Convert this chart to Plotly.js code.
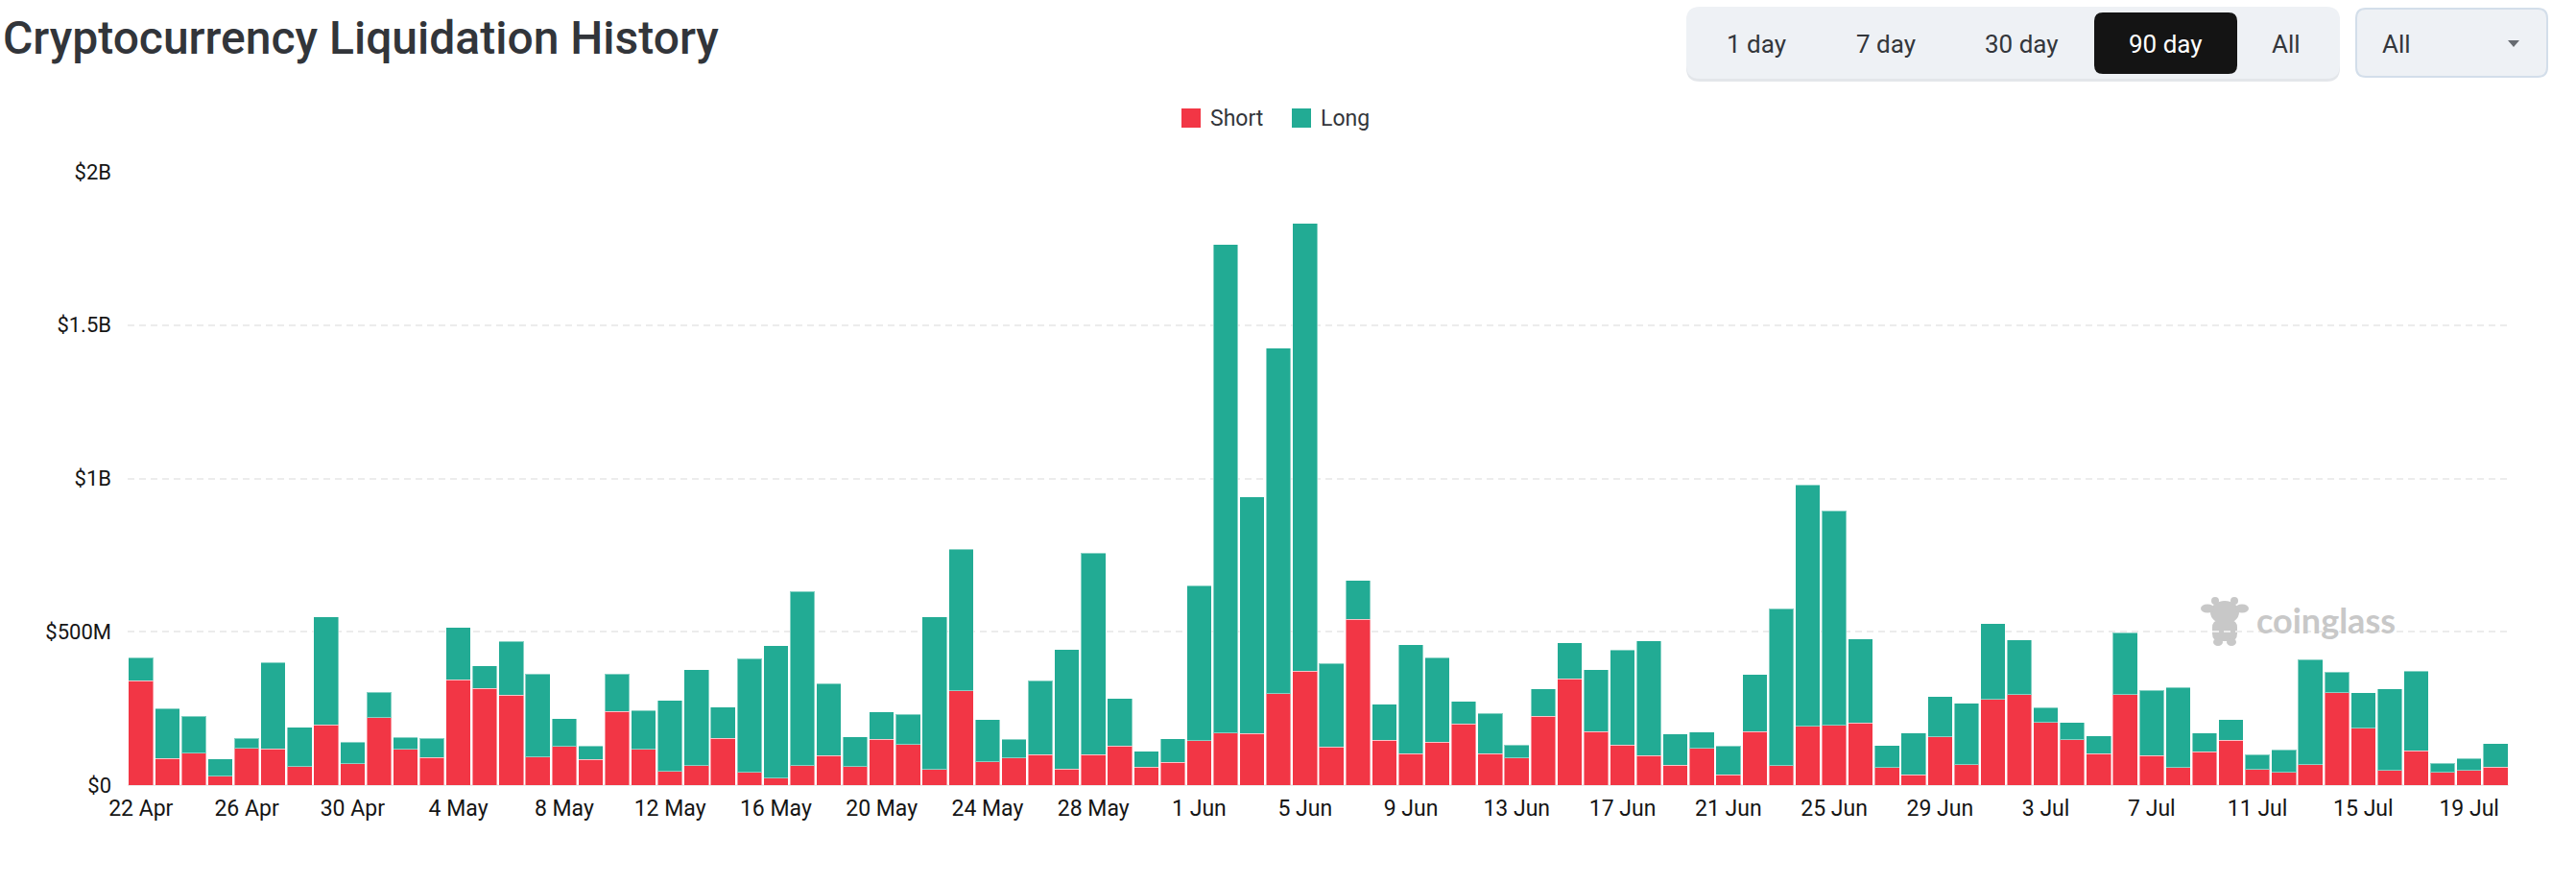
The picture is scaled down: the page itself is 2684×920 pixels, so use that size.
<!DOCTYPE html>
<html>
<head>
<meta charset="utf-8">
<script src="https://cdn.plot.ly/plotly-3.0.1.min.js"></script>
<style>
  html, body { margin: 0; padding: 0; background: #ffffff; }
  #chart { width: 2684px; height: 920px; }
</style>
</head>
<body>
<div id="chart"></div>
<script>
// ---------- DATA (values in millions of USD) ----------
const dates = [
  "22 Apr","23 Apr","24 Apr","25 Apr","26 Apr","27 Apr","28 Apr","29 Apr","30 Apr",
  "1 May","2 May","3 May","4 May","5 May","6 May","7 May","8 May","9 May","10 May",
  "11 May","12 May","13 May","14 May","15 May","16 May","17 May","18 May","19 May","20 May",
  "21 May","22 May","23 May","24 May","25 May","26 May","27 May","28 May","29 May","30 May","31 May",
  "1 Jun","2 Jun","3 Jun","4 Jun","5 Jun","6 Jun","7 Jun","8 Jun","9 Jun","10 Jun",
  "11 Jun","12 Jun","13 Jun","14 Jun","15 Jun","16 Jun","17 Jun","18 Jun","19 Jun","20 Jun",
  "21 Jun","22 Jun","23 Jun","24 Jun","25 Jun","26 Jun","27 Jun","28 Jun","29 Jun","30 Jun",
  "1 Jul","2 Jul","3 Jul","4 Jul","5 Jul","6 Jul","7 Jul","8 Jul","9 Jul","10 Jul",
  "11 Jul","12 Jul","13 Jul","14 Jul","15 Jul","16 Jul","17 Jul","18 Jul","19 Jul","20 Jul"
];

const shortVals = [
  341, 87, 104, 29, 119, 118, 61, 197, 70,
  220, 117, 90, 344, 316, 294, 91, 126, 83, 241,
  117, 45, 64, 152, 42, 23, 64, 97, 60, 149,
  133, 51, 308, 76, 89, 100, 53, 100, 128, 58, 75,
  145, 170, 168, 298, 371, 124, 540, 147, 102, 140,
  199, 102, 88, 224, 346, 174, 130, 96, 65, 120,
  33, 175, 64, 192, 195, 203, 57, 33, 157, 66,
  279, 295, 204, 148, 103, 295, 97, 57, 108, 146,
  51, 41, 66, 301, 185, 48, 112, 42, 47, 58
];

const longVals = [
  75, 163, 121, 57, 34, 282, 128, 351, 70,
  83, 39, 62, 170, 73, 175, 272, 91, 45, 122,
  126, 232, 313, 102, 371, 431, 567, 234, 97, 89,
  98, 498, 461, 138, 61, 241, 389, 657, 154, 53, 76,
  505, 1593, 772, 1127, 1461, 273, 127, 116, 355, 275,
  74, 132, 43, 90, 118, 203, 310, 374, 101, 53,
  94, 186, 511, 787, 700, 273, 72, 137, 131, 201,
  247, 178, 49, 57, 58, 202, 212, 262, 62, 68,
  48, 74, 344, 68, 116, 266, 259, 29, 40, 78
];

const xTickLabels = [
  "22 Apr","26 Apr","30 Apr","4 May","8 May","12 May","16 May","20 May","24 May","28 May",
  "1 Jun","5 Jun","9 Jun","13 Jun","17 Jun","21 Jun","25 Jun","29 Jun","3 Jul","7 Jul",
  "11 Jul","15 Jul","19 Jul"
];
const yTickVals = [0, 500, 1000, 1500, 2000];
const yTickText = ["$0", "$500M", "$1B", "$1.5B", "$2B"];

const seriesNames = ["Short", "Long"];
const rangeButtons = ["1 day", "7 day", "30 day", "90 day", "All"];

// ---------- STYLE ----------
const RED = "#f23645";
const TEAL = "#22ab94";
const FONT = "Roboto, 'Noto Sans', sans-serif";

const W = 2684, H = 920;
const M = { l: 133, r: 70, t: 179, b: 102 };
const PW = W - M.l - M.r, PH = H - M.t - M.b;
const px = X => (X - M.l) / PW;
const py = Y => (H - M.b - Y) / PH;
const pt = (X, Y) => px(X) + "," + py(Y);

function rrect(x0, y0, x1, y1, r) {
  return "M" + pt(x0 + r, y0) +
    " L" + pt(x1 - r, y0) + " Q" + pt(x1, y0) + " " + pt(x1, y0 + r) +
    " L" + pt(x1, y1 - r) + " Q" + pt(x1, y1) + " " + pt(x1 - r, y1) +
    " L" + pt(x0 + r, y1) + " Q" + pt(x0, y1) + " " + pt(x0, y1 - r) +
    " L" + pt(x0, y0 + r) + " Q" + pt(x0, y0) + " " + pt(x0 + r, y0) + " Z";
}
function pathShape(d, fill, line, lw, layer) {
  return { type: "path", xref: "paper", yref: "paper", path: d,
           fillcolor: fill, line: { color: line || fill, width: lw || 0 }, layer: layer || "above" };
}
function ellipse(cx, cy, rx, ry, fill) {
  return { type: "circle", xref: "paper", yref: "paper",
           x0: px(cx - rx), x1: px(cx + rx), y0: py(cy + ry), y1: py(cy - ry),
           fillcolor: fill, line: { width: 0 }, layer: "below" };
}
function note(text, X, Y, size, color, xanchor, extra) {
  return Object.assign({ text: text, xref: "paper", yref: "paper", x: px(X), y: py(Y),
    xanchor: xanchor || "left", yanchor: "middle", showarrow: false,
    font: { family: FONT, size: size, color: color } }, extra || {});
}

// ---------- TRACES ----------
const traces = [
  { type: "bar", name: seriesNames[0], x: dates, y: shortVals,
    marker: { color: RED, line: { color: "rgba(255,255,255,0.45)", width: 1 } },
    hoverinfo: "x+y+name" },
  { type: "bar", name: seriesNames[1], x: dates, y: longVals,
    marker: { color: TEAL, line: { color: "rgba(255,255,255,0.45)", width: 1 } },
    hoverinfo: "x+y+name" }
];

// ---------- CHROME (title, buttons, legend, watermark) ----------
const shapes = [];
const annotations = [];

// title
annotations.push(note("Cryptocurrency Liquidation History", 1, 40, 48, "#32353a", "left",
  { font: { family: FONT, size: 48, color: "#32353a", weight: 500 } }));

// button group
shapes.push(pathShape(rrect(1757, 9, 2438, 85, 14), "#e3e6ea"));
shapes.push(pathShape(rrect(1757, 7, 2438, 82, 14), "#eef1f5"));
shapes.push(pathShape(rrect(2182, 13, 2331, 77, 9), "#141414"));
const btnCenters = [1830, 1965, 2106, 2256, 2382];
rangeButtons.forEach((b, i) => {
  annotations.push(note(b, btnCenters[i], 46, 26, i === 3 ? "#ffffff" : "#33363b", "center"));
});

// dropdown
shapes.push(pathShape(rrect(2455, 9, 2654, 80, 10), "#eef1f5", "#d3deea", 2));
annotations.push(note("All", 2480, 46, 26, "#33363b", "left"));
shapes.push(pathShape("M" + pt(2613, 42) + " L" + pt(2625, 42) + " L" + pt(2619, 49) + " Z", "#666a70"));

// legend
shapes.push(pathShape(rrect(1231, 113, 1251, 133, 0.01), RED));
shapes.push(pathShape(rrect(1346, 113, 1366, 133, 0.01), TEAL));
annotations.push(note(seriesNames[0], 1259, 123, 23, "#33363b", "left"));
annotations.push(note(seriesNames[1], 1374, 123, 23, "#33363b", "left"));

// watermark
const WM = "#c8c8c8";
shapes.push(ellipse(2318, 638, 15, 12, WM));   // head
shapes.push(ellipse(2300, 634, 7, 4.5, WM));   // ear L
shapes.push(ellipse(2336, 634, 7, 4.5, WM));   // ear R
shapes.push(ellipse(2308, 626, 4, 4, WM));     // horn L
shapes.push(ellipse(2328, 626, 4, 4, WM));     // horn R
shapes.push(pathShape(rrect(2305, 646, 2331, 668, 8), WM, WM, 0, "below"));
shapes.push(ellipse(2311, 669, 5, 4, WM));     // foot L
shapes.push(ellipse(2325, 669, 5, 4, WM));     // foot R
annotations.push(note("coinglass", 2349, 646, 36, WM, "left",
  { font: { family: "Lato, " + FONT, size: 36, color: WM, weight: 700 } }));

// ---------- LAYOUT ----------
const layout = {
  width: W, height: H,
  margin: M,
  paper_bgcolor: "#ffffff", plot_bgcolor: "#ffffff",
  barmode: "stack", bargap: 0.07,
  showlegend: false,
  font: { family: FONT, size: 23, color: "#151515" },
  xaxis: {
    type: "category", categoryorder: "array", categoryarray: dates,
    range: [-0.5, dates.length - 0.5],
    tickvals: xTickLabels, ticktext: xTickLabels,
    showgrid: false, showline: false, zeroline: false, ticks: "",
    tickfont: { family: FONT, size: 23, color: "#151515" },
    ticklabelstandoff: 8, fixedrange: true
  },
  yaxis: {
    range: [0, 2000],
    tickvals: yTickVals, ticktext: yTickText,
    showgrid: true, gridcolor: "#ececec", gridwidth: 2, griddash: "7px,5px",
    zeroline: true, zerolinecolor: "#ececec", zerolinewidth: 2,
    showline: false, ticks: "",
    tickfont: { family: FONT, size: 22, color: "#151515" },
    ticklabelstandoff: 16, fixedrange: true
  },
  shapes: shapes,
  annotations: annotations
};

Plotly.newPlot("chart", traces, layout, { displayModeBar: false, staticPlot: true });
</script>
</body>
</html>
